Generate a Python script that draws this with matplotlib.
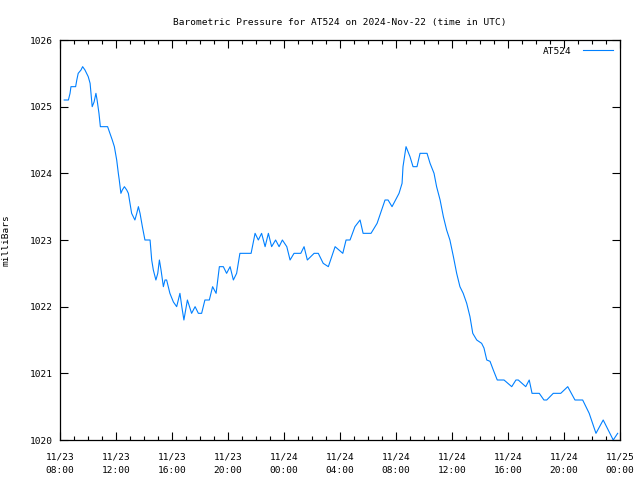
import matplotlib

matplotlib.use("Agg")
import matplotlib.dates as mdates
import matplotlib.pyplot as plt
import pandas as pd

# minutes after 2024-11-23 08:00 UTC, pressure in mb
minutes = [
    18, 36, 43, 47, 67, 72, 78, 90, 97, 107, 121, 129, 133, 138, 146, 154, 159,
    167, 173, 204, 214, 224, 233, 243, 250, 254, 261, 267, 276, 286, 293, 300,
    307, 321, 329, 336, 343, 353, 364, 386, 393, 400, 411, 419, 426, 433, 443,
    450, 457, 471, 486, 500, 507, 514, 522, 531, 546, 564, 579, 593, 607, 621,
    640, 654, 669, 683, 700, 714, 729, 743, 757, 771, 819, 836, 850, 864, 879,
    893, 907, 924, 939, 953, 972, 986, 1003, 1032, 1046, 1060, 1089, 1107, 1128,
    1150, 1179, 1212, 1226, 1243, 1264, 1286, 1299, 1333, 1359, 1393, 1406,
    1423, 1453, 1466, 1470, 1483, 1500, 1513, 1530, 1543, 1573, 1586, 1603,
    1614, 1629, 1643, 1657, 1671, 1686, 1700, 1714, 1728, 1743, 1757, 1769,
    1786, 1807, 1817, 1829, 1843, 1857, 1874, 1903, 1936, 1954, 1964, 1996,
    2011, 2023, 2054, 2074, 2086, 2114, 2146, 2176, 2207, 2240, 2268, 2297,
    2328, 2371, 2390,
]
pressure = [
    1025.1, 1025.1, 1025.2, 1025.3, 1025.3, 1025.4, 1025.5, 1025.55, 1025.6,
    1025.55, 1025.45, 1025.35, 1025.2, 1025.0, 1025.07, 1025.2, 1025.1, 1024.9,
    1024.7, 1024.7, 1024.6, 1024.5, 1024.4, 1024.2, 1024.0, 1023.9, 1023.7,
    1023.75, 1023.8, 1023.75, 1023.7, 1023.55, 1023.4, 1023.3, 1023.4, 1023.5,
    1023.4, 1023.2, 1023.0, 1023.0, 1022.7, 1022.55, 1022.4, 1022.5, 1022.7,
    1022.55, 1022.3, 1022.4, 1022.4, 1022.2, 1022.07, 1022.0, 1022.1, 1022.2,
    1022.0, 1021.8, 1022.1, 1021.9, 1022.0, 1021.9, 1021.9, 1022.1, 1022.1,
    1022.3, 1022.2, 1022.6, 1022.6, 1022.5, 1022.6, 1022.4, 1022.5, 1022.8,
    1022.8, 1023.1, 1023.0, 1023.1, 1022.9, 1023.1, 1022.9, 1023.0, 1022.9,
    1023.0, 1022.9, 1022.7, 1022.8, 1022.8, 1022.9, 1022.7, 1022.8, 1022.8,
    1022.65, 1022.6, 1022.9, 1022.8, 1023.0, 1023.0, 1023.2, 1023.3, 1023.1,
    1023.1, 1023.25, 1023.6, 1023.6, 1023.5, 1023.7, 1023.85, 1024.1, 1024.4,
    1024.25, 1024.1, 1024.1, 1024.3, 1024.3, 1024.15, 1024.0, 1023.8, 1023.6,
    1023.35, 1023.15, 1023.0, 1022.75, 1022.5, 1022.3, 1022.2, 1022.05,
    1021.85, 1021.6, 1021.5, 1021.45, 1021.38, 1021.2, 1021.18, 1021.05,
    1020.9, 1020.9, 1020.8, 1020.9, 1020.9, 1020.8, 1020.9, 1020.7, 1020.7,
    1020.6, 1020.6, 1020.7, 1020.7, 1020.8, 1020.6, 1020.6, 1020.4, 1020.1,
    1020.3, 1020.0, 1020.1,
]
station = "AT524"
start = pd.Timestamp("2024-11-23 08:00")
end = pd.Timestamp("2024-11-25 00:00")
y_range = (1020, 1026)

times = start + pd.to_timedelta(minutes, unit="m")

plt.rcParams["font.family"] = "DejaVu Sans Mono"
plt.rcParams["font.size"] = 6.8

fig = plt.figure(figsize=(6.4, 4.8), dpi=100)
fig.patch.set_facecolor("white")
ax = fig.add_axes([60 / 640, 40 / 480, 560 / 640, 400 / 480])

ax.plot(times, pressure, color="#0080ff", linewidth=0.8, label=station)

ax.set_xlim(start, end)
ax.set_ylim(*y_range)
ax.xaxis.set_major_locator(mdates.HourLocator(byhour=range(0, 24, 4)))
ax.xaxis.set_minor_locator(mdates.HourLocator())
ax.xaxis.set_major_formatter(mdates.DateFormatter("%m/%d\n%H:%M"))
ax.set_yticks(range(y_range[0], y_range[1] + 1))
ax.tick_params(which="both", direction="in", top=True, right=True,
               color="black", width=0.8, labelsize=6.8)
ax.tick_params(which="major", length=6, pad=5)
ax.tick_params(which="minor", length=3)
ax.tick_params(axis="x", pad=9)
for lbl in ax.get_xticklabels():
    lbl.set_linespacing(1.6)
for spine in ax.spines.values():
    spine.set_linewidth(0.9)

ax.set_ylabel("milliBars")
ax.yaxis.set_label_coords(-0.089, 0.5)
ax.set_title(f"Barometric Pressure for {station} on 2024-Nov-22 (time in UTC)",
             pad=11, fontsize=6.8)

leg = ax.legend(loc="upper right", frameon=False, markerfirst=False,
                handlelength=3.2, borderaxespad=0.3, handletextpad=1.2)

fig.savefig("out.png", dpi=100)
